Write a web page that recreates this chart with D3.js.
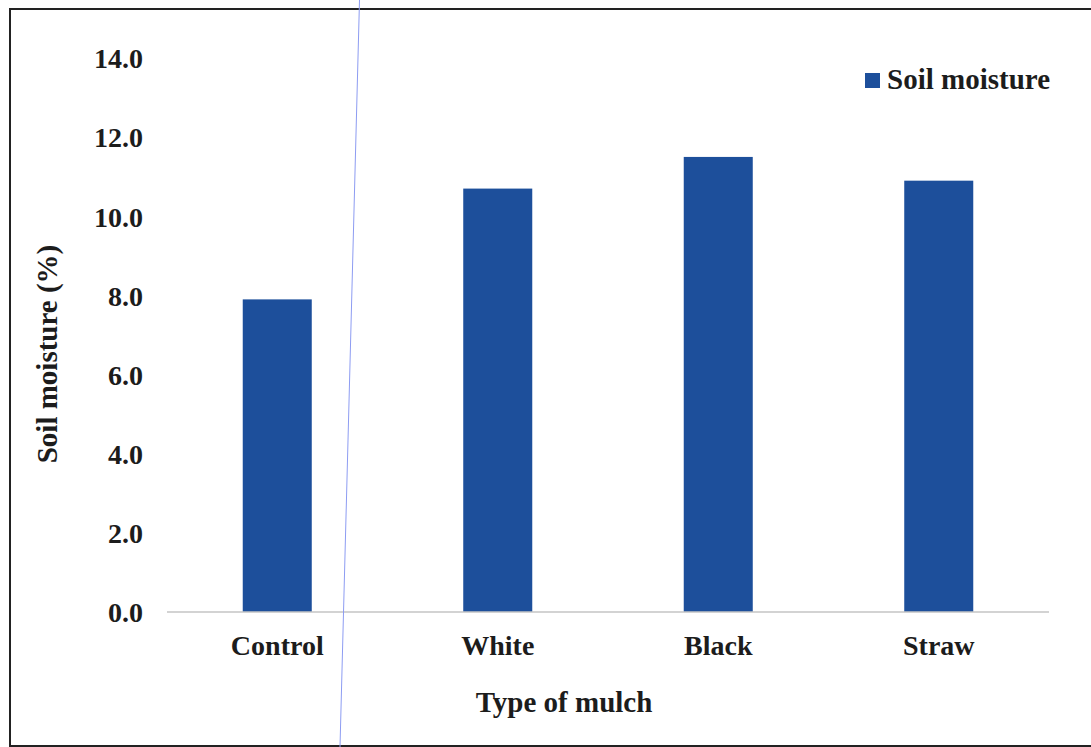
<!DOCTYPE html>
<html>
<head>
<meta charset="utf-8">
<script src="https://cdn.jsdelivr.net/npm/d3@7"></script>
<style>
  html, body { margin: 0; padding: 0; background: #fff; }
  svg { display: block; }
</style>
</head>
<body>
<script>
const categories = ["Control", "White", "Black", "Straw"];
const soilMoisture = [7.9, 10.7, 11.5, 10.9];
const yTicks = [0, 2, 4, 6, 8, 10, 12, 14];
const seriesName = "Soil moisture";
const xTitle = "Type of mulch";
const yTitle = "Soil moisture (%)";

const W = 1091, H = 747;
const FONT = '"Liberation Serif"';
const TXT = "#1c1c1c";
const BAR = "#1d4f9b";

const svg = d3.select("body").append("svg").attr("width", W).attr("height", H);

function styleText(sel, size) {
  sel.style("font-family", FONT).style("font-weight", "bold")
     .style("font-size", size + "px").style("fill", TXT);
}

// outer frame
svg.append("rect").attr("x", 10).attr("y", 9).attr("width", 1100).attr("height", 737)
  .attr("fill", "none").attr("stroke", "#222").attr("stroke-width", 2);

const x = d3.scaleBand().domain(categories).range([167, 1049]).paddingInner(0.687).paddingOuter(0.3435);
const y = d3.scaleLinear().domain([0, 14]).range([612, 58]);

// bars
svg.append("g").selectAll("rect").data(categories).join("rect")
  .attr("x", d => x(d))
  .attr("width", x.bandwidth())
  .attr("y", (d, i) => y(soilMoisture[i]))
  .attr("height", (d, i) => y(0) - y(soilMoisture[i]))
  .attr("fill", BAR);

// baseline
svg.append("line").attr("x1", 167).attr("x2", 1049).attr("y1", y(0)).attr("y2", y(0))
  .attr("stroke", "#c4c4c4").attr("stroke-width", 1.3);

// y axis tick labels
const yAxis = d3.axisLeft(y).tickValues(yTicks).tickFormat(d3.format(".1f")).tickSize(0).tickPadding(0);
const gy = svg.append("g").attr("transform", "translate(143,0)").call(yAxis);
gy.attr("font-family", null);
gy.select(".domain").remove();
gy.selectAll("text").call(styleText, 28).attr("dy", "0.35em");

// x axis labels
const xAxis = d3.axisBottom(x).tickSize(0).tickPadding(0);
const gx = svg.append("g").attr("transform", `translate(0,${y(0)})`).call(xAxis);
gx.attr("font-family", null);
gx.select(".domain").remove();
gx.selectAll("text").call(styleText, 28).attr("dy", null).attr("y", 43);

// axis titles
svg.append("text").attr("x", 564).attr("y", 712).attr("text-anchor", "middle").call(styleText, 29).text(xTitle);
svg.append("text").attr("transform", "translate(57,354) rotate(-90)").attr("text-anchor", "middle").call(styleText, 29).text(yTitle);

// legend
svg.append("rect").attr("x", 865).attr("y", 73).attr("width", 15).attr("height", 15).attr("fill", BAR);
svg.append("text").attr("x", 887).attr("y", 89).call(styleText, 29).text(seriesName);

// thin scan line artifact
svg.append("line").attr("x1", 359.5).attr("y1", 0).attr("x2", 340).attr("y2", 747)
  .attr("stroke", "#8d9cf2").attr("stroke-width", 1);
</script>
</body>
</html>
